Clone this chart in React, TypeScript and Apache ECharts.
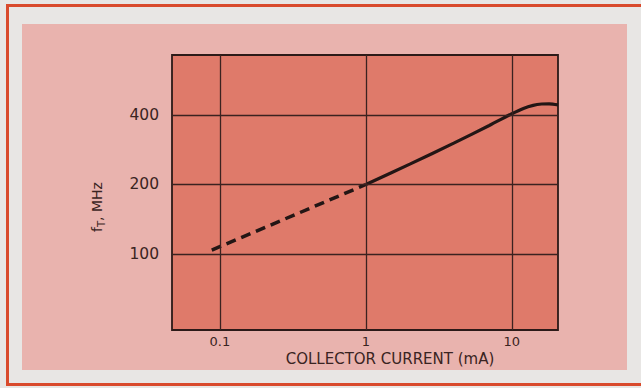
import React, { useEffect, useRef } from "react";
import * as echarts from "echarts";

const xTicks = [0.1, 1, 10];
const xTickLabels = ["0.1", "1", "10"];
const yTicks = [100, 200, 400];
const yTickLabels = ["100", "200", "400"];
const dashedSeg: [number, number][] = [
  [0.088, 104],
  [1, 200],
];
const solidSeg: [number, number][] = [
  [1, 200],
  [2, 245],
  [4, 302],
  [7, 360],
  [10, 405],
  [12, 427],
  [14, 440],
  [16, 446],
  [18, 447],
  [20.7, 442],
];
const xTitle = "COLLECTOR CURRENT (mA)";

export default function App() {
  const ref = useRef<HTMLDivElement>(null);
  useEffect(() => {
    if (!ref.current) return;
    const chart = echarts.init(ref.current, null, { renderer: "svg" });
    const ink = "#3a2422";
    const font = "DejaVu Sans";
    const gridMarks = {
      silent: true,
      symbol: "none",
      lineStyle: { color: "#3b2220", width: 1.3, type: "solid" },
      emphasis: { disabled: true },
      data: [
        ...xTicks.map((v, i) => ({
          xAxis: v,
          label: {
            show: true,
            position: "start",
            formatter: xTickLabels[i],
            color: ink,
            fontFamily: font,
            fontSize: 13,
            distance: 5,
          },
        })),
        ...yTicks.map((v, i) => ({
          yAxis: v,
          label: {
            show: true,
            position: "start",
            formatter: yTickLabels[i],
            color: ink,
            fontFamily: font,
            fontSize: 15.5,
            distance: 13,
          },
        })),
      ],
    };
    chart.setOption({
      animation: false,
      backgroundColor: "#e8e6e4",
      graphic: [
        {
          type: "rect",
          z: -10,
          shape: { x: 7.5, y: 5.5, width: 640, height: 379 },
          style: { fill: "none", stroke: "#d94a2c", lineWidth: 3 },
        },
        {
          type: "rect",
          z: -10,
          shape: { x: 22, y: 24, width: 605, height: 346 },
          style: { fill: "#e9b3ae" },
        },
        {
          type: "text",
          x: 390,
          y: 359,
          style: {
            text: xTitle,
            fill: ink,
            font: `15px "${font}"`,
            align: "center",
            verticalAlign: "middle",
          },
        },
        {
          type: "text",
          x: 97,
          y: 207,
          rotation: Math.PI / 2,
          style: {
            text: "{a|f}{b|T}{a|, MHz}",
            align: "center",
            verticalAlign: "middle",
            rich: {
              a: { fontSize: 14, fontFamily: font, fill: ink, lineHeight: 18 },
              b: {
                fontSize: 10,
                fontFamily: font,
                fill: ink,
                lineHeight: 18,
                verticalAlign: "bottom",
                padding: [7, 0, 0, 0],
              },
            },
          },
        },
      ],
      grid: {
        left: 172,
        top: 55,
        right: 83,
        bottom: 58,
        show: true,
        backgroundColor: "#df7a6a",
        borderColor: "#2c1a18",
        borderWidth: 1.8,
      },
      xAxis: {
        type: "log",
        logBase: 10,
        min: 0.047,
        max: 20.7,
        axisLine: { show: false },
        axisTick: { show: false },
        axisLabel: { show: false },
        splitLine: { show: false },
      },
      yAxis: {
        type: "log",
        logBase: 10,
        min: 46.9,
        max: 727,
        axisLine: { show: false },
        axisTick: { show: false },
        axisLabel: { show: false },
        splitLine: { show: false },
      },
      series: [
        {
          type: "line",
          data: dashedSeg,
          showSymbol: false,
          lineStyle: { color: "#231615", width: 3.5, type: [10, 6] },
          markLine: gridMarks,
          z: 3,
        },
        {
          type: "line",
          data: solidSeg,
          showSymbol: false,
          smooth: 0.3,
          lineStyle: { color: "#231615", width: 3.2 },
          z: 3,
        },
      ],
    });
    return () => chart.dispose();
  }, []);
  return (
    <div
      ref={ref}
      style={{ position: "fixed", left: 0, top: 0, width: 641, height: 388 }}
    />
  );
}
